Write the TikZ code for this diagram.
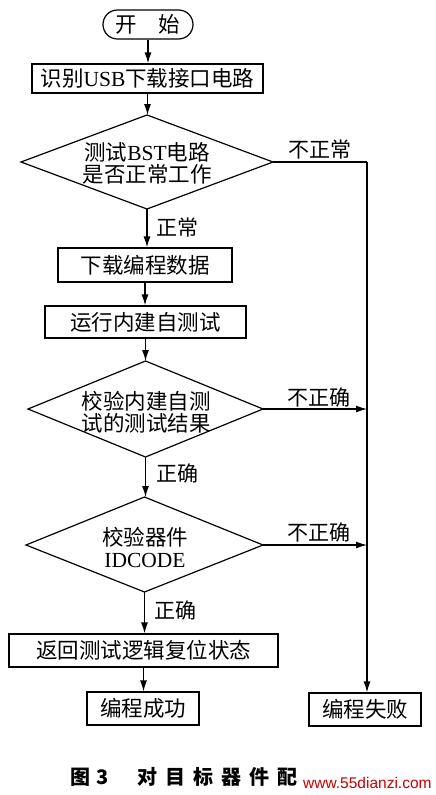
\documentclass[tikz,border=0pt]{standalone}
\usepackage{fontspec}
\setmainfont{Liberation Serif}
\newfontfamily\cjk{Noto Sans CJK SC}
\newfontfamily\wmfont{Liberation Sans}
\usetikzlibrary{arrows.meta}
\tikzset{
  lw/.style={line width=1.2pt},
  txt/.style={font=\cjk\fontsize{21.5}{22}\selectfont, inner sep=0pt, align=center},
  pbox/.style n args={2}{draw, lw, minimum width=#1, minimum height=#2, inner sep=0pt, font=\cjk\fontsize{21.5}{22}\selectfont},
  arr/.style={lw, -{Latex[length=11pt,width=7pt]}},
  ln/.style={lw},
  lbl/.style={font=\cjk\fontsize{21}{22}\selectfont, inner sep=0pt}
}
\begin{document}
\begin{tikzpicture}[x=1pt,y=-1pt]
\useasboundingbox[fill=white] (0,0) rectangle (436,795);
% terminator and boxes
\node[pbox={90pt}{29pt}, rounded corners=14.5pt] (start) at (148,24.5) {开\hspace{1em}始};
\node[pbox={231pt}{29pt}] (b1) at (147.5,78.5) {识别{\rmfamily USB}下载接口电路};
\node[pbox={174pt}{34pt}] (b2) at (145,265) {下载编程数据};
\node[pbox={201pt}{32pt}] (b3) at (145.5,322) {运行内建自测试};
\node[pbox={269pt}{33pt}] (b4) at (143.5,650.5) {返回测试逻辑复位状态};
\node[pbox={112pt}{33pt}] (b5) at (143,708.5) {编程成功};
\node[pbox={112pt}{33pt}] (b6) at (365,709.5) {编程失败};
% diamond 1
\coordinate (d1t) at (147,115); \coordinate (d1r) at (273,162);
\coordinate (d1b) at (147,209); \coordinate (d1l) at (21,162);
\draw[ln] (d1t) -- (d1r) -- (d1b) -- (d1l) -- cycle;
\node[txt] (d1x) at (147,163) {测试{\rmfamily BST}电路\\是否正常工作};
% diamond 2
\coordinate (d2t) at (145.5,361); \coordinate (d2r) at (263,409);
\coordinate (d2b) at (145.5,457); \coordinate (d2l) at (28,409);
\draw[ln] (d2t) -- (d2r) -- (d2b) -- (d2l) -- cycle;
\node[txt] (d2x) at (146,412) {校验内建自测\\试的测试结果};
% diamond 3
\coordinate (d3t) at (144.5,497); \coordinate (d3r) at (263,545);
\coordinate (d3b) at (144.5,592); \coordinate (d3l) at (26,545);
\draw[ln] (d3t) -- (d3r) -- (d3b) -- (d3l) -- cycle;
\node[txt] (d3x) at (145,547) {校验器件\\{\rmfamily IDCODE}};
% main flow
\draw[arr] (start.south) -- (start.south |- b1.north);
\draw[arr] (b1.south) -- (b1.south |- d1t);
\draw[arr] (d1b) -- (d1b |- b2.north);
\draw[arr] (b2.south) -- (b2.south |- b3.north);
\draw[arr] (b3.south) -- (b3.south |- d2t);
\draw[arr] (d2b) -- (d2b |- d3t);
\draw[arr] (d3b) -- (d3b |- b4.north);
\draw[arr] (b4.south) -- (b4.south |- b5.north);
% failure branch
\coordinate (c1) at (367,162);
\draw[ln] (d1r) -- (c1);
\draw[arr] (c1) -- (c1 |- b6.north);
\draw[arr] (d2r) -- (c1 |- d2r);
\draw[arr] (d3r) -- (c1 |- d3r);
% labels
\node[lbl] (l1) at (320,150) {不正常};
\node[lbl] (l2) at (177,228) {正常};
\node[lbl] (l3) at (319,397) {不正确};
\node[lbl] (l4) at (177,473) {正确};
\node[lbl] (l5) at (319,532) {不正确};
\node[lbl] (l6) at (175,610) {正确};
% caption
\node[font=\cjk\bfseries\fontsize{20}{22}\selectfont, inner sep=0pt, anchor=west] (cap1) at (70,777) {图\hskip6pt 3};
\node[font=\cjk\bfseries\fontsize{20}{22}\selectfont, inner sep=0pt, anchor=west] (cap2) at (137,777) {对\hskip8pt 目\hskip8pt 标\hskip8pt 器\hskip8pt 件\hskip8pt 配};
\node[font=\wmfont\fontsize{15.5}{17}\selectfont, text=red!80!black, inner sep=1pt, anchor=west] (wm) at (302,783) {www.55dianzi.com};
\end{tikzpicture}
\end{document}
